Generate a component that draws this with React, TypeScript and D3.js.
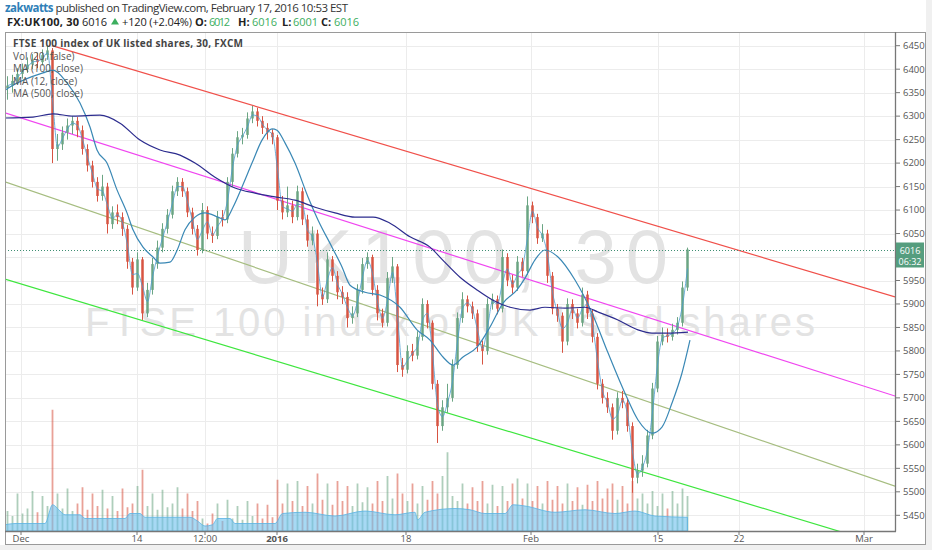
import * as d3 from 'd3'

const W = 932
const H = 550
const pane = { left: 5, right: 895, top: 32, bottom: 531 }

// 5px slots, one candle per slot
const firstOpen = 6360
const closes = [
  6365, 6375, 6390, 6400, 6410, 6420, 6415, 6430, 6440, 6230,
  6240, 6265, 6280, 6290, 6270, 6230, 6195, 6160, 6130, 6150,
  6070, 6095, 6085, 6060, 5990, 5935, 5995, 5880, 5930, 5985,
  6020, 6060, 6090, 6140, 6160, 6140, 6095, 6060, 6015, 6100,
  6050, 6045, 6085, 6080, 6160, 6220, 6255, 6260, 6295, 6310,
  6290, 6275, 6265, 6255, 6120, 6095, 6110, 6085, 6140, 6080,
  6035, 6050, 5920, 5910, 5995, 5960, 5925, 5915, 5870, 5880,
  5930, 5985, 6000, 5930, 5880, 5860, 5955, 5980, 5770, 5760,
  5800, 5790, 5830, 5900, 5860, 5730, 5640, 5680, 5700, 5770,
  5870, 5910, 5895, 5880, 5810, 5800, 5900, 5910, 5890, 6000,
  5950, 5935, 5990, 5970, 6110, 6085, 6040, 6050, 5960, 5890,
  5875, 5820, 5900, 5880, 5860, 5920, 5880, 5830, 5730, 5700,
  5680, 5630, 5700, 5690, 5640, 5530, 5545, 5560, 5620, 5720,
  5820, 5835, 5830, 5845, 5860, 5935, 6016,
]
const highs = [
  6385, 6388, 6402, 6412, 6425, 6432, 6435, 6442, 6450, 6445,
  6262, 6278, 6295, 6300, 6298, 6280, 6240, 6205, 6170, 6175,
  6158, 6108, 6112, 6095, 6068, 5998, 6010, 6000, 5945, 5998,
  6035, 6072, 6102, 6152, 6170, 6168, 6148, 6105, 6068, 6115,
  6108, 6065, 6098, 6100, 6170, 6232, 6268, 6275, 6308, 6322,
  6318, 6300, 6285, 6272, 6260, 6130, 6150, 6120, 6152, 6148,
  6090, 6065, 6058, 5935, 6010, 6002, 5970, 5938, 5925, 5895,
  5942, 5998, 6010, 6005, 5940, 5890, 5968, 6000, 5985, 5785,
  5812, 5815, 5842, 5912, 5908, 5865, 5738, 5695, 5730, 5782,
  5882, 5925, 5918, 5905, 5888, 5822, 5912, 5922, 5918, 6016,
  6008, 5962, 6002, 5998, 6129, 6118, 6092, 6070, 6058, 5968,
  5900, 5882, 5912, 5910, 5890, 5935, 5928, 5888, 5838, 5740,
  5712, 5688, 5712, 5715, 5698, 5648, 5560, 5578, 5632, 5732,
  5832, 5850, 5848, 5858, 5872, 5948, 6020,
]
const lows = [
  6335, 6350, 6368, 6380, 6392, 6400, 6402, 6408, 6420, 6200,
  6205, 6228, 6250, 6262, 6255, 6218, 6182, 6148, 6118, 6120,
  6050, 6060, 6070, 6045, 5975, 5920, 5928, 5866, 5872, 5920,
  5975, 6010, 6050, 6082, 6130, 6128, 6085, 6048, 6003, 6008,
  6038, 6030, 6038, 6065, 6072, 6150, 6212, 6240, 6252, 6285,
  6278, 6262, 6250, 6240, 6100, 6080, 6085, 6072, 6078, 6068,
  6022, 6025, 5895, 5898, 5902, 5948, 5910, 5900, 5850, 5858,
  5872, 5922, 5975, 5918, 5865, 5850, 5852, 5945, 5755, 5745,
  5752, 5778, 5782, 5822, 5848, 5718, 5604, 5630, 5668, 5692,
  5762, 5860, 5882, 5868, 5798, 5771, 5792, 5888, 5878, 5882,
  5938, 5922, 5928, 5958, 5962, 6072, 6028, 6032, 5945, 5878,
  5862, 5796, 5812, 5868, 5848, 5852, 5868, 5818, 5718, 5688,
  5668, 5611, 5622, 5678, 5628, 5498, 5518, 5532, 5552, 5612,
  5712, 5812, 5818, 5822, 5835, 5852, 5928,
]
const volumes = [
  16, 12, 30, 14, 18, 32, 15, 28, 20, 97,
  30, 18, 34, 16, 22, 35, 17, 30, 20, 33,
  18, 28, 16, 34, 19, 22, 36, 49, 20, 30,
  17, 33, 19, 22, 35, 18, 30, 16, 24, 10,
  6, 14, 22, 8, 25, 10, 20, 9, 24, 12,
  22, 10, 21, 11, 41, 22, 38, 24, 40, 20,
  36, 22, 46, 25, 38, 21, 40, 24, 36, 20,
  38, 23, 35, 22, 40, 24, 44, 26, 46, 30,
  24, 38, 22, 36, 25, 40, 30, 44, 63, 28,
  24, 38, 22, 35, 24, 40, 22, 37, 20, 36,
  24, 38, 42, 26, 38, 24, 36, 22, 40, 25,
  36, 22, 38, 24, 35, 21, 37, 24, 40, 26,
  34, 38, 25, 36, 22, 40, 26, 30, 22, 32,
  20, 30, 18, 32, 22, 34, 28,
]
// [slot, value]
const volAvg: [number, number][] = [
  [0, 5], [2, 6], [8, 6], [9.5, 21], [11, 16], [12, 13], [15, 13], [16, 10], [24, 10], [25, 14],
  [27, 14], [28, 11], [37, 11], [38.5, 8], [40, 4], [41.5, 5], [42.5, 10], [45, 10], [46, 6], [54, 6],
  [55.5, 14], [60, 15], [66, 12], [72, 16], [78, 13], [82, 15], [82.5, 9], [84, 15], [90, 18], [93, 17],
  [96, 14], [100, 14], [101.6, 21], [104, 20], [110, 15], [116, 17], [122, 14], [126, 16], [130, 12], [136.5, 11],
]
const ma100: [number, number][] = [
  [0, 6355], [1, 6362], [7.6, 6392], [9.6, 6398], [12.4, 6371], [15, 6328], [17, 6277], [18.4, 6228], [20.4, 6200],
  [22.4, 6143], [24.4, 6094], [25.6, 6058], [27.6, 6021], [29.6, 6000], [31, 5987], [33, 5989], [34.4, 6014],
  [36, 6058], [38, 6085], [40, 6094], [42.6, 6085], [44, 6079], [45.6, 6106], [47.4, 6149], [49.4, 6200],
  [51.4, 6249], [53.4, 6273], [54.4, 6270], [56, 6243], [58, 6200], [60.6, 6128], [62.6, 6079], [65.4, 6021],
  [67.4, 5979], [69, 5940], [72, 5925], [75, 5919], [79, 5893], [82.4, 5845], [85, 5823], [87.6, 5787],
  [89.6, 5770], [91.6, 5787], [94.4, 5808], [97, 5851], [99.6, 5902], [102.4, 5930], [104, 5955], [106, 5994],
  [108, 6015], [110.6, 6000], [114, 5951], [117.4, 5881], [120.6, 5796], [124, 5710], [126.6, 5653],
  [129.4, 5625], [131.4, 5638], [133.4, 5689], [135.4, 5753], [137, 5823],
]
const ma500: [number, number][] = [
  [0, 6296], [5.6, 6298], [9.6, 6305], [13.6, 6300], [19, 6302], [23, 6285], [27, 6249], [31, 6228], [35, 6217],
  [38, 6200], [42, 6170], [46, 6147], [50, 6136], [54, 6128], [58, 6121], [62, 6106], [66, 6094], [70, 6085],
  [73.6, 6085], [77, 6072], [81, 6043], [85, 6021], [87.6, 5993], [91, 5957], [94.4, 5930], [97.6, 5908],
  [101, 5893], [105, 5887], [108, 5893], [112, 5891], [116, 5893], [118.6, 5883], [122.6, 5866],
  [126.6, 5845], [129.4, 5838], [132.6, 5838], [136.6, 5840],
]
const priceTicks = [5450, 5500, 5550, 5600, 5650, 5700, 5750, 5800, 5850, 5900, 5950, 6050, 6100, 6150, 6200, 6250, 6300, 6350, 6400, 6450]
const gridTicks = [5450, 5500, 5550, 5600, 5650, 5700, 5750, 5800, 5850, 5900, 5950, 6000, 6050, 6100, 6150, 6200, 6250, 6300, 6350, 6400, 6450]
const timeLabels = ['Dec', '14', '12:00', '2016', '18', 'Feb', '15', '22', 'Mar']
const timeSlots = [3.2, 26.4, 40, 54.4, 80.2, 105.2, 130.6, 146.8, 171.8]
// trend lines: [slot, value] -> [slot, value]
const trendLines = [
  { color: '#f0504a', from: [9.4, 6450], to: [178, 5915] },
  { color: '#f046f0', from: [0, 6307], to: [178, 5704] },
  { color: '#a6bd80', from: [0, 6160], to: [178, 5512] },
  { color: '#3ee63e', from: [0, 5953], to: [178, 5380] },
]
const lastPrice = 6016

const UP = '#6ba583'
const DOWN = '#d75442'
const GREEN = '#3cae5e'
const FONT = "'Open Sans', 'DejaVu Sans', sans-serif"

export default function App() {
  const x = d3.scaleLinear().domain([0, 178]).range([pane.left, pane.right])
  const y = d3.scaleLinear().domain([5450, 6450]).range([515.3, 45.7])
  const yVol = d3.scaleLinear().domain([0, 100]).range([pane.bottom, pane.bottom - 125])

  const candles = closes.map((c, i) => ({
    i,
    o: i === 0 ? firstOpen : closes[i - 1],
    h: highs[i],
    l: lows[i],
    c,
  }))
  const ma12: [number, number][] = closes.map((c, i) => [i + 0.5, d3.mean(closes.slice(Math.max(0, i - 1), i + 1)) as number])

  const line = d3.line<[number, number]>().x(d => x(d[0])).y(d => y(d[1])).curve(d3.curveMonotoneX)
  const volArea = d3
    .area<[number, number]>()
    .x(d => x(d[0]))
    .y0(pane.bottom)
    .y1(d => yVol(d[1]))
    .curve(d3.curveMonotoneX)

  return (
    <div style={{ position: 'fixed', left: 0, top: 0 }}>
      <svg width={W} height={H} style={{ display: 'block', background: '#fff', fontFamily: FONT }}>
        <defs>
          <clipPath id="pane">
            <rect x={pane.left} y={pane.top} width={pane.right - pane.left} height={pane.bottom - pane.top} />
          </clipPath>
        </defs>
        <rect x={0} y={545} width={W} height={5} fill="#f0f0f0" />
        <rect x={926} y={0} width={6} height={H} fill="#f0f0f0" />

        {/* header */}
        <text x={5} y={11.5} fontSize={11.5} fill="#333" textLength={343} lengthAdjust="spacing">
          <tspan fill="#2f7fb8" fontWeight="bold">zakwatts</tspan>
          <tspan> published on TradingView.com, February 17, 2016 10:53 EST</tspan>
        </text>
        <g fontSize={11} fill="#222">
          <text x={7} y={25.5} fontWeight="bold" textLength={72} lengthAdjust="spacing">FX:UK100, 30</text>
          <text x={82} y={25.5} textLength={25} lengthAdjust="spacing">6016</text>
          <text x={122} y={25.5} textLength={70} lengthAdjust="spacing">+120 (+2.04%)</text>
          <text x={195} y={25.5} fontWeight="bold">O:</text>
          <text x={209} y={25.5} fill={GREEN} textLength={21} lengthAdjust="spacing">6012</text>
          <text x={238} y={25.5} fontWeight="bold">H:</text>
          <text x={252} y={25.5} fill={GREEN} textLength={25} lengthAdjust="spacing">6016</text>
          <text x={282} y={25.5} fontWeight="bold">L:</text>
          <text x={293} y={25.5} fill={GREEN} textLength={25} lengthAdjust="spacing">6001</text>
          <text x={321} y={25.5} fontWeight="bold">C:</text>
          <text x={334} y={25.5} fill={GREEN} textLength={25} lengthAdjust="spacing">6016</text>
        </g>
        <path d="M111,24.5 L115,18 L119,24.5 Z" fill={GREEN} />

        {/* grid */}
        <g stroke="#ececec" strokeWidth={1}>
          {gridTicks.map(t => (
            <line key={t} x1={pane.left} x2={pane.right} y1={Math.round(y(t)) + 0.5} y2={Math.round(y(t)) + 0.5} />
          ))}
          {timeSlots.map(s => (
            <line key={s} x1={Math.round(x(s)) + 0.5} x2={Math.round(x(s)) + 0.5} y1={pane.top} y2={pane.bottom} />
          ))}
        </g>

        {/* watermark */}
        <g fill="#e3e3e3" fontFamily="'Liberation Sans', Arial, sans-serif">
          <text x={238} y={283} fontSize={76} textLength={430} lengthAdjust="spacing">UK100, 30</text>
          <text x={85} y={336} fontSize={40} textLength={730} lengthAdjust="spacing">FTSE 100 index of UK listed shares</text>
        </g>

        <g clipPath="url(#pane)">
          {/* volume */}
          {candles.map(d => (
            <rect
              key={'v' + d.i}
              x={x(d.i + 0.5) - 0.9}
              width={1.8}
              y={yVol(volumes[d.i])}
              height={pane.bottom - yVol(volumes[d.i])}
              fill={d.c >= d.o ? UP : DOWN}
              opacity={0.55}
            />
          ))}
          <path d={volArea(volAvg) ?? ''} fill="#6cc0ec" fillOpacity={0.6} stroke="#5ab3e3" strokeWidth={0.8} />

          {/* trend channel */}
          {trendLines.map(t => (
            <line
              key={t.color}
              x1={x(t.from[0])}
              y1={y(t.from[1])}
              x2={x(t.to[0])}
              y2={y(t.to[1])}
              stroke={t.color}
              strokeWidth={1.2}
            />
          ))}

          {/* last price */}
          <line
            x1={pane.left}
            x2={pane.right}
            y1={Math.round(y(lastPrice)) + 0.5}
            y2={Math.round(y(lastPrice)) + 0.5}
            stroke="#3f8f73"
            strokeDasharray="1,2"
          />

          {/* candles */}
          {candles.map(d => {
            const cx = x(d.i + 0.5)
            const col = d.c >= d.o ? UP : DOWN
            const top = y(Math.max(d.o, d.c))
            const bot = y(Math.min(d.o, d.c))
            return (
              <g key={'c' + d.i}>
                <line x1={cx} x2={cx} y1={y(d.h)} y2={y(d.l)} stroke={col} strokeWidth={1} />
                <rect x={cx - 1.25} width={2.5} y={top} height={Math.max(1, bot - top)} fill={col} />
              </g>
            )
          })}

          {/* moving averages */}
          <path d={line(ma12) ?? ''} fill="none" stroke="#4b9bd0" strokeWidth={1} opacity={0.8} />
          <path d={line(ma100) ?? ''} fill="none" stroke="#3a88b5" strokeWidth={1.2} />
          <path d={line(ma500) ?? ''} fill="none" stroke="#2c2c8e" strokeWidth={1.2} />
        </g>

        {/* legend */}
        <g fontSize={10} fill="#555">
          <text x={13} y={47} fontWeight="bold" fill="#444" textLength={230} lengthAdjust="spacing">FTSE 100 index of UK listed shares, 30, FXCM</text>
          <text x={13} y={59.5}>Vol (20, false)</text>
          <text x={13} y={72}>MA (100, close)</text>
          <text x={13} y={84.5}>MA (12, close)</text>
          <text x={13} y={97}>MA (500, close)</text>
        </g>

        {/* frame + axes */}
        <rect x={5.5} y={32.5} width={920} height={512} fill="none" stroke="#9a9a9a" />
        <line x1={895.5} x2={895.5} y1={32} y2={531.5} stroke="#777" strokeWidth={1.3} />
        <line x1={5} x2={896} y1={531.5} y2={531.5} stroke="#777" strokeWidth={1.3} />

        <g fontSize={9.5} fill="#555">
          {priceTicks.map(t => (
            <g key={t}>
              <line x1={896} x2={900} y1={y(t)} y2={y(t)} stroke="#777" />
              <text x={903} y={y(t)} dy="0.35em">{t}</text>
            </g>
          ))}
          {timeLabels.map((lab, k) => (
            <g key={lab}>
              <line x1={x(timeSlots[k])} x2={x(timeSlots[k])} y1={531} y2={535} stroke="#777" />
              <text x={x(timeSlots[k])} y={542} textAnchor="middle" fontWeight={lab === '2016' ? 'bold' : 'normal'}>
                {lab}
              </text>
            </g>
          ))}
        </g>

        {/* price badge */}
        <rect x={896} y={242.5} width={28} height={25} fill="#559d7e" />
        <text x={910} y={253.5} fontSize={9} fill="#fff" textAnchor="middle">{lastPrice}</text>
        <text x={910} y={265} fontSize={9} fill="#fff" textAnchor="middle">06:32</text>
      </svg>
    </div>
  )
}
